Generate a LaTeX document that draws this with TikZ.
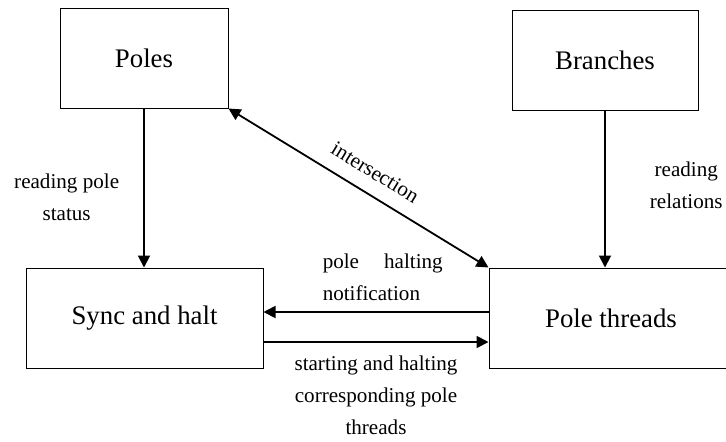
\documentclass[tikz,border=0pt]{standalone}
\usepackage{fontspec}
\setmainfont{Liberation Serif}
\usetikzlibrary{arrows.meta}

\tikzset{
    block/.style={draw, line width=0.5pt, minimum height=50pt, font=\fontsize{13.4}{16}\selectfont},
    flow/.style={line width=0.9pt, -{Triangle[length=6pt,width=6pt]}},
    note/.style={inner sep=0pt, font=\fontsize{10.55}{16}\selectfont, align=center}
}

\begin{document}
\begin{tikzpicture}[x=0.5pt, y=-0.5pt]
                        \useasboundingbox (0,0) rectangle (726,441);

                        \node[block, minimum width=84pt] (poles) at (144,58) {Poles};
                        \node[block, minimum width=93pt] (branches) at (605,60) {Branches};
                        \node[block, minimum width=118.5pt] (sync) at (144.5,318) {Sync and halt};
                        \node[block, minimum width=122pt] (threads) at (611,318) {Pole threads};

                        \draw[flow] (poles.south) -- (poles.south |- sync.north)
                            node[note, midway, left=12pt, yshift=-4.5pt] {reading pole\\status};
                        \draw[flow] (branches.south) -- (branches.south |- threads.north)
                            node[note, midway, right=22pt, yshift=1.75pt] {reading\\relations};

                        \draw[flow, {Triangle[length=6pt,width=6pt]}-{Triangle[length=6pt,width=6pt]}] (poles.south east) -- (threads.north west)
                            node[note, pos=0.52, sloped, above=7pt] {intersection};

                        \draw[flow] ([yshift=3pt]threads.west) -- ([yshift=3pt]sync.east)
                            node[note, pos=0.47, above=5pt, text width=60pt, align=justify] {pole halting notification};
                        \draw[flow] ([yshift=-12pt]sync.east) -- ([yshift=-12pt]threads.west)
                            node[note, midway, below=6.5pt] {starting and halting\\corresponding pole\\threads};
                    \end{tikzpicture}
\end{document}
